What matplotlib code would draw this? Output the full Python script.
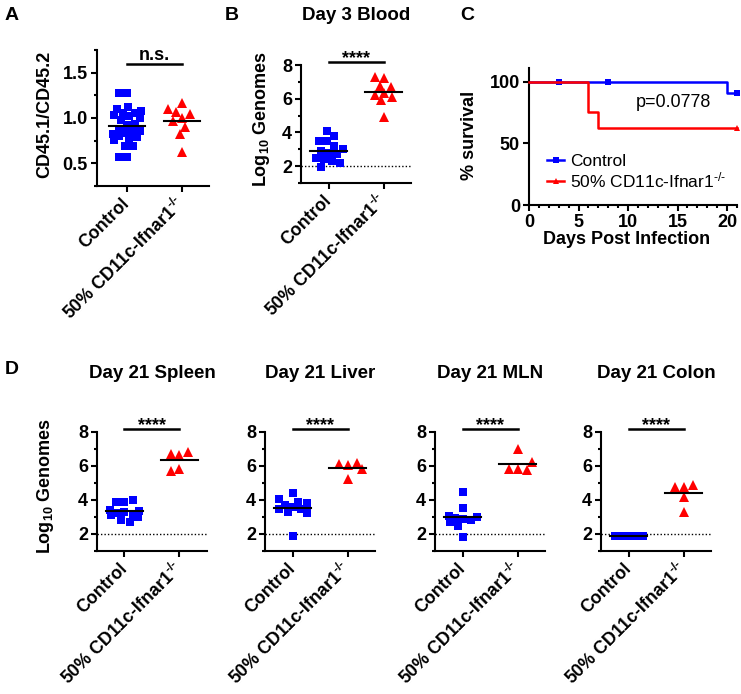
import matplotlib
matplotlib.use('Agg')
import matplotlib.pyplot as plt
import numpy as np
from matplotlib.ticker import MultipleLocator
from matplotlib.lines import Line2D

plt.rcParams['font.family'] = ['Liberation Sans', 'DejaVu Sans']
plt.rcParams['font.weight'] = 'bold'
plt.rcParams['mathtext.fontset'] = 'custom'
plt.rcParams['mathtext.rm'] = 'Liberation Sans'
plt.rcParams['mathtext.bf'] = 'Liberation Sans:bold'
plt.rcParams['mathtext.default'] = 'regular'

# ---------------- data ----------------
groups = ['Control', '50% CD11c-Ifnar1$^{\u2010/\u2010}$']
BLUE = '#0000ff'
RED = '#ff0000'

# Panel A: CD45.1/CD45.2 ratio
a_ctrl = [1.28, 1.28, 1.12, 1.10, 1.08, 1.06, 1.05, 1.03, 1.02, 1.00, 0.98,
          0.93, 0.92, 0.88, 0.86, 0.85, 0.84, 0.82, 0.80, 0.79, 0.77, 0.76,
          0.69, 0.69, 0.57, 0.57]
a_ko = [1.17, 1.095, 1.065, 1.04, 0.995, 0.97, 0.905, 0.825, 0.63]

# Panel B: Day 3 blood, log10 genomes
b_ctrl = [4.1, 3.8, 3.5, 3.5, 3.2, 3.0, 2.9, 2.8, 2.7, 2.5, 2.4, 2.3, 2.2, 1.95]
b_ko = [7.27, 7.23, 6.77, 6.67, 6.32, 6.22, 6.12, 5.92, 4.93]

# Panel C: survival (Kaplan-Meier steps)
c_ctrl_t = [0, 20, 21]
c_ctrl_s = [100, 90.9, 90.9]
c_ctrl_cens_t = [3, 8, 21]
c_ctrl_cens_s = [100, 100, 90.9]
c_ko_t = [0, 6, 7, 21]
c_ko_s = [100, 75, 62.5, 62.5]
c_ko_cens_t = [21]
c_ko_cens_s = [62.5]
c_pvalue = 'p=0.0778'
c_legend = ['Control', '50% CD11c-Ifnar1$^{\u2010/\u2010}$']

# Panel D: Day 21 organs, log10 genomes
d_titles = ['Day 21 Spleen', 'Day 21 Liver', 'Day 21 MLN', 'Day 21 Colon']
spleen_ctrl = [4.0, 3.9, 3.86, 3.4, 3.35, 3.3, 3.25, 3.2, 3.1, 3.0, 2.85, 2.7]
spleen_ko = [6.81, 6.73, 6.67, 5.82, 5.70]
liver_ctrl = [4.39, 4.06, 3.9, 3.8, 3.7, 3.6, 3.5, 3.45, 3.3, 3.25, 1.9]
liver_ko = [6.18, 6.14, 6.08, 5.8, 5.25]
mln_ctrl = [4.5, 3.55, 3.05, 3.0, 2.95, 2.9, 2.85, 2.7, 2.5, 1.85]
mln_ko = [6.99, 6.22, 5.84, 5.84, 5.78]
colon_ctrl = [1.9, 1.9, 1.9, 1.9, 1.9, 1.9, 1.9, 1.9, 1.9, 1.9]
colon_ko = [4.91, 4.79, 4.79, 4.16, 3.32]

# ---------------- layout helpers ----------------
W, H = 741, 694
fig = plt.figure(figsize=(W / 100, H / 100), dpi=100)


def px_axes(left, top, right, bottom):
    return fig.add_axes([left / W, 1 - bottom / H, (right - left) / W, (bottom - top) / H])


def style(ax):
    for s in ['top', 'right']:
        ax.spines[s].set_visible(False)
    for s in ['left', 'bottom']:
        ax.spines[s].set_linewidth(1.5)
    ax.tick_params(which='major', length=4.5, width=1.5, labelsize=13, pad=2)
    ax.tick_params(which='minor', length=2.5, width=1.5)


def swarm(ax, x0, vals, diam_px, cap_px, step_px=1.0):
    trans = ax.transData
    vals = np.asarray(vals, dtype=float)
    y_px = np.array([trans.transform((x0, v))[1] for v in vals])
    x0_px = trans.transform((x0, 0))[0]
    ppu = trans.transform((x0 + 1, 0))[0] - x0_px
    order = np.argsort(np.abs(vals - np.median(vals)), kind='stable')
    cand = sorted(np.arange(-cap_px, cap_px + 1e-9, step_px), key=lambda c: (abs(c), c))
    placed = []
    offs = np.zeros(len(vals))
    for i in order:
        best, bestd = 0.0, -1.0
        for c in cand:
            if placed:
                dmin = min(np.hypot(c - px, y_px[i] - py) for px, py in placed)
            else:
                dmin = np.inf
            if dmin >= diam_px:
                best = c
                break
            if dmin > bestd:
                bestd, best = dmin, c
        placed.append((best, y_px[i]))
        offs[i] = best / ppu
    return x0 + offs


def scatter_panel(ax, ctrl, ko, ylim, xlim, sig_y, sig_text, sig_text_y,
                  dotted=None, major=2, minor=1):
    style(ax)
    ax.set_xlim(*xlim)
    ax.set_ylim(*ylim)
    ax.yaxis.set_major_locator(MultipleLocator(major))
    ax.yaxis.set_minor_locator(MultipleLocator(minor))
    ax.set_xticks([0, 1])
    ax.set_xticklabels(groups, rotation=45, ha='right', va='center',
                       rotation_mode='anchor', fontsize=12.8, fontweight='bold')
    ax.tick_params(axis='x', pad=6)
    if dotted is not None:
        ax.axhline(dotted, color='black', lw=1, ls=(0, (1, 1.5)), zorder=1)
    xs = swarm(ax, 0, ctrl, 8.0, 14.0)
    ax.plot(xs, ctrl, 's', color=BLUE, ms=6, mew=0, zorder=3, clip_on=False)
    xs = swarm(ax, 1, ko, 8.5, 14.0)
    ax.plot(xs, ko, '^', color=RED, ms=7, mew=0, zorder=3, clip_on=False)
    for x0, vals in [(0, ctrl), (1, ko)]:
        m = np.mean(vals)
        ax.plot([x0 - 0.33, x0 + 0.33], [m, m], color='black', lw=1.5, zorder=4)
    ax.plot([0, 1], [sig_y, sig_y], color='black', lw=1.8, clip_on=False)
    ax.text(0.5, sig_text_y, sig_text, ha='center', va='baseline',
            fontsize=13, fontweight='bold')


# ---------------- Panel A ----------------
axA = px_axes(97, 50, 209, 186)
scatter_panel(axA, a_ctrl, a_ko, (0.25, 1.75), (-0.55, 1.5), 1.6, 'n.s.', 1.645,
              major=0.5, minor=0.25)
axA.set_yticks([0.5, 1.0, 1.5])
axA.set_yticklabels(['0.5', '1.0', '1.5'])
axA.set_ylabel('CD45.1/CD45.2', fontsize=13, fontweight='bold', va='center')
axA.yaxis.set_label_coords(-0.464, 0.53)

# ---------------- Panel B ----------------
axB = px_axes(301, 65, 411, 183)
scatter_panel(axB, b_ctrl, b_ko, (1, 8), (-0.5, 1.5), 8.2, '****', 8.1, dotted=2)
axB.set_ylabel('Log$_{10}$ Genomes', fontsize=13, fontweight='bold', va='center')
axB.yaxis.set_label_coords(-0.355, 0.54)
axB.text(0.5, 1 + (65 - 15) / 118, 'Day 3 Blood', transform=axB.transAxes,
         ha='center', va='center', fontsize=13.5, fontweight='bold')

# ---------------- Panel C ----------------
axC = px_axes(529, 68, 737, 205)
style(axC)
axC.set_xlim(0, 21)
axC.set_ylim(0, 111)
axC.xaxis.set_major_locator(MultipleLocator(5))
axC.xaxis.set_minor_locator(MultipleLocator(1))
axC.set_yticks([0, 50, 100])
axC.step(c_ctrl_t, c_ctrl_s, where='post', color=BLUE, lw=1.8, clip_on=False, zorder=2)
axC.plot(c_ctrl_cens_t, c_ctrl_cens_s, 's', color=BLUE, ms=5, mew=0, clip_on=False, zorder=2)
axC.step(c_ko_t, c_ko_s, where='post', color=RED, lw=1.8, clip_on=False, zorder=3)
axC.plot(c_ko_cens_t, c_ko_cens_s, '^', color=RED, ms=5, mew=0, clip_on=False, zorder=3)
h1 = Line2D([], [], color=BLUE, lw=1.8, marker='s', ms=4, mew=0)
h2 = Line2D([], [], color=RED, lw=1.8, marker='^', ms=4, mew=0)
axC.legend([h1, h2], c_legend, loc='upper left',
           bbox_to_anchor=((547 - 529) / 208, (205 - 154) / 137), frameon=False,
           borderpad=0, borderaxespad=0, handlelength=1.0, handletextpad=0.35,
           labelspacing=0.05, prop={'size': 12.5, 'weight': 'normal'})
axC.text(14.6, 83, c_pvalue, ha='center', va='center', fontsize=13, fontweight='normal')
axC.set_ylabel('% survival', fontsize=13, fontweight='bold', va='center')
axC.yaxis.set_label_coords(-0.284, 0.51)
axC.set_xlabel('Days Post Infection', fontsize=13, fontweight='bold', va='center')
axC.xaxis.set_label_coords(0.47, (205 - 240) / 137)

# ---------------- Panel D ----------------
d_data = [(spleen_ctrl, spleen_ko), (liver_ctrl, liver_ko),
          (mln_ctrl, mln_ko), (colon_ctrl, colon_ko)]
for i, (L, title, (ctrl, ko)) in enumerate(zip([97, 265, 435, 601], d_titles, d_data)):
    ax = px_axes(L, 432, L + 110, 551)
    scatter_panel(ax, ctrl, ko, (1, 8), (-0.5, 1.5), 8.2, '****', 8.1, dotted=2)
    ax.text(0.5, 1 + (432 - 373) / 119, title, transform=ax.transAxes,
            ha='center', va='center', fontsize=13.5, fontweight='bold')
    if i == 0:
        ax.set_ylabel('Log$_{10}$ Genomes', fontsize=13, fontweight='bold', va='center')
        ax.yaxis.set_label_coords(-0.464, 0.546)

# ---------------- panel letters ----------------
for lab, x, y in [('A', 12, 15), ('B', 232, 15), ('C', 467, 15), ('D', 12, 370)]:
    fig.text(x / W, 1 - y / H, lab, ha='center', va='center', fontsize=14, fontweight='bold')

fig.savefig('out.png', dpi=100)
